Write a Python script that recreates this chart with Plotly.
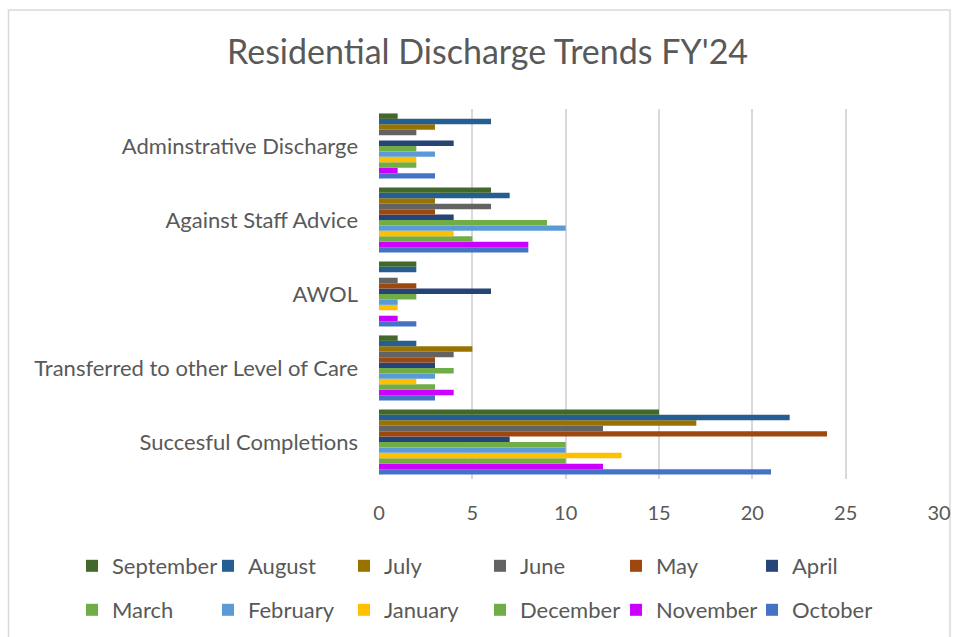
import plotly.graph_objects as go

categories = ["Succesful Completions", "Transferred to other Level of Care", "AWOL",
              "Against Staff Advice", "Adminstrative Discharge"]

# values per month, ordered as categories above (bottom to top)
october   = [21, 3, 2, 8, 3]
november  = [12, 4, 1, 8, 1]
december  = [10, 3, 0, 5, 2]
january   = [13, 2, 1, 4, 2]
february  = [10, 3, 1, 10, 3]
march     = [10, 4, 2, 9, 2]
april     = [7, 3, 6, 4, 4]
may       = [24, 3, 2, 3, 0]
june      = [12, 4, 1, 6, 2]
july      = [17, 5, 0, 3, 3]
august    = [22, 2, 2, 7, 6]
september = [15, 1, 2, 6, 1]

months = ["October", "November", "December", "January", "February", "March",
          "April", "May", "June", "July", "August", "September"]
values = [october, november, december, january, february, march,
          april, may, june, july, august, september]
colors = ["#4472C4", "#CC00FF", "#70AD47", "#FFC000", "#5B9BD5", "#70AD47",
          "#264478", "#9E480E", "#636363", "#997300", "#255E91", "#43682B"]
legend_ids = ["legend2"] * 6 + ["legend"] * 6

x_ticks = [0, 5, 10, 15, 20, 25, 30]

FONT = "Lato, Calibri, sans-serif"
GREY = "#595959"

fig = go.Figure()
for name, vals, col, lg in zip(months, values, colors, legend_ids):
    fig.add_trace(go.Bar(
        y=categories, x=vals, name=name, orientation="h",
        marker=dict(color=col, line=dict(width=0)),
        legend=lg,
    ))

PW = 560.0
PH = 370.0
def px_x(p):
    return (p - 379) / PW
def px_y(p):
    return (479 - p) / PH

legend_common = dict(
    orientation="h", xanchor="left", yanchor="middle",
    font=dict(family=FONT, size=22, color=GREY),
    traceorder="reversed", entrywidth=91, entrywidthmode="pixels",
    bgcolor="rgba(0,0,0,0)", itemclick=False, itemdoubleclick=False,
)

fig.update_layout(
    width=956, height=637,
    margin=dict(l=379, r=17, t=109, b=158, autoexpand=False),
    paper_bgcolor="white", plot_bgcolor="white",
    barmode="group", bargap=0.12, bargroupgap=0,
    title=dict(text="Residential Discharge Trends FY'24",
               font=dict(family=FONT, size=34, color=GREY),
               x=0.51, xanchor="center", y=0.918, yanchor="middle"),
    xaxis=dict(range=[0, 30], tickvals=x_ticks, showgrid=True, gridcolor="#D9D9D9",
               gridwidth=1.5, zeroline=False, showline=False, automargin=False,
               tickfont=dict(family=FONT, size=20, color=GREY),
               ticks="", ticklabelstandoff=20, fixedrange=True),
    yaxis=dict(categoryorder="array", categoryarray=categories, showgrid=False,
               zeroline=False, showline=False, ticks="", automargin=False,
               tickfont=dict(family=FONT, size=22, color=GREY),
               ticklabelstandoff=20, fixedrange=True),
    legend=dict(x=px_x(72), y=px_y(566), **legend_common),
    legend2=dict(x=px_x(72), y=px_y(610), **legend_common),
    showlegend=True,
    shapes=[dict(type="rect", xref="paper", yref="paper",
                 x0=px_x(8.5), x1=px_x(950), y0=px_y(645), y1=px_y(10),
                 line=dict(color="#D9D9D9", width=1.5), layer="below")],
)

fig.write_html("out.html", config={"displayModeBar": False},
               post_script="document.body.style.margin='0';document.body.style.overflow='hidden';")
